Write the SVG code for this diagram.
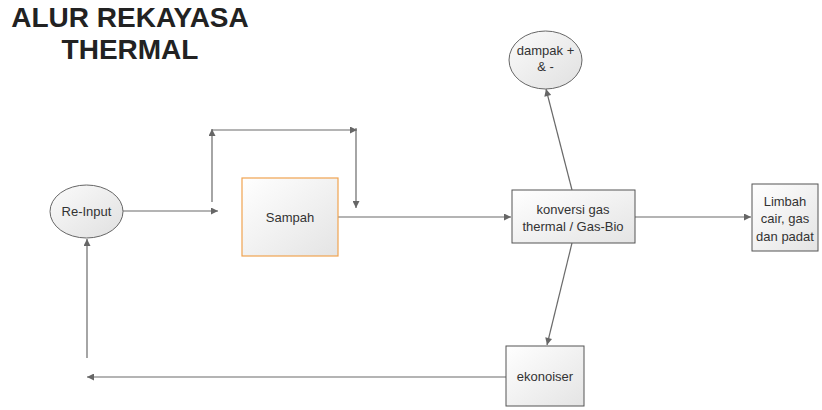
<svg xmlns="http://www.w3.org/2000/svg" width="822" height="410" viewBox="0 0 822 410">
<defs>
<linearGradient id="gBox" x1="0" y1="0" x2="1" y2="1"><stop offset="0" stop-color="#ffffff"/><stop offset="1" stop-color="#e4e4e4"/></linearGradient>
<linearGradient id="gEl" x1="0" y1="0" x2="1" y2="1"><stop offset="0" stop-color="#fbfbfb"/><stop offset="1" stop-color="#e0e0e0"/></linearGradient>
<marker id="arr" viewBox="0 0 10 10" refX="10" refY="5" markerWidth="9" markerHeight="7" markerUnits="userSpaceOnUse" orient="auto"><path d="M0,0 L10,5 L0,10 z" fill="#666"/></marker>
</defs>
<style>
.t{font-family:"Liberation Sans",Arial,sans-serif;font-size:13px;fill:#333;text-anchor:middle}
.title{font-family:"Liberation Sans",Arial,sans-serif;font-size:28px;font-weight:bold;fill:#222;text-anchor:middle}
.box{fill:url(#gBox);stroke:#555;stroke-width:1}
.el{fill:url(#gEl);stroke:#666;stroke-width:1}
.c{fill:none;stroke:#6a6a6a;stroke-width:1.2;marker-end:url(#arr)}
.l{fill:none;stroke:#6a6a6a;stroke-width:1.2}
</style>
<g id="title">
<text class="title" x="130" y="27">ALUR REKAYASA</text>
<text class="title" x="130" y="59">THERMAL</text>
</g>
<g id="connectors">
<line class="c" x1="123" y1="211" x2="218" y2="211"/>
<line class="c" x1="212" y1="202" x2="212" y2="129"/>
<line class="c" x1="212" y1="130" x2="357" y2="130"/>
<line class="c" x1="356" y1="128" x2="356" y2="208"/>
<line class="c" x1="338" y1="217" x2="511" y2="217"/>
<line class="c" x1="572" y1="190" x2="546" y2="89"/>
<line class="c" x1="635" y1="217" x2="751" y2="217"/>
<line class="c" x1="572" y1="243" x2="547" y2="345"/>
<line class="c" x1="506" y1="377" x2="87" y2="377"/>
<line class="c" x1="87" y1="358" x2="87" y2="239"/>
</g>
<g id="re-input">
<ellipse class="el" cx="86.5" cy="211.5" rx="36.5" ry="26.5"/>
<text class="t" x="86.5" y="216">Re-Input</text>
</g>
<g id="sampah">
<rect x="242" y="178" width="96" height="78" fill="url(#gBox)" stroke="#f0a350" stroke-width="1.2"/>
<text class="t" x="290" y="222">Sampah</text>
</g>
<g id="konversi">
<rect class="box" x="512" y="190" width="123" height="53"/>
<text class="t" x="573" y="214">konversi gas</text>
<text class="t" x="573" y="231">thermal / Gas-Bio</text>
</g>
<g id="dampak">
<ellipse class="el" cx="545.5" cy="60" rx="36.5" ry="29"/>
<text class="t" x="545.5" y="55">dampak +</text>
<text class="t" x="545.5" y="71">&amp; -</text>
</g>
<g id="limbah">
<rect class="box" x="752" y="184" width="66" height="67"/>
<text class="t" x="785" y="206">Limbah</text>
<text class="t" x="785" y="223">cair, gas</text>
<text class="t" x="785" y="241">dan padat</text>
</g>
<g id="ekonoiser">
<rect class="box" x="506" y="346" width="78" height="60"/>
<text class="t" x="545" y="381">ekonoiser</text>
</g>
</svg>
